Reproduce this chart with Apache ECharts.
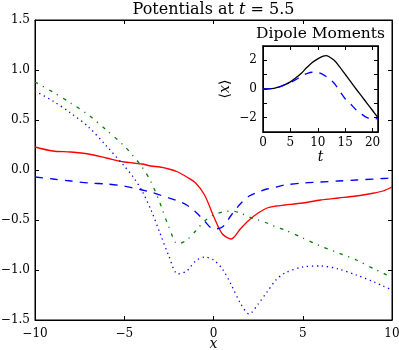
<!DOCTYPE html>
<html>
<head>
<meta charset="utf-8">
<script src="https://cdn.jsdelivr.net/npm/echarts@6/dist/echarts.min.js"></script>
<style>
    html, body { margin: 0; padding: 0; background: #fff; }
    #chart { width: 399px; height: 350px; }
</style>
</head>
<body>
<div id="chart"></div>
<script>
// main plot: potentials at t = 5.5
const xMain = [-10, -9, -8, -7, -6, -5, -4.5, -4, -3.5, -3, -2.5, -2, -1.5, -1, -0.5, 0, 0.5, 1, 1.5, 2, 2.5, 3, 3.5, 4, 5, 6, 7, 8, 9, 9.5, 10];
const redSolid = [0.23, 0.19, 0.18, 0.16, 0.12, 0.08, 0.07, 0.06, 0.04, 0.03, 0.01, -0.02, -0.07, -0.13, -0.25, -0.46, -0.64, -0.69, -0.59, -0.5, -0.43, -0.38, -0.36, -0.35, -0.33, -0.3, -0.28, -0.26, -0.23, -0.21, -0.17];
const blueDashed = [-0.07, -0.09, -0.11, -0.13, -0.14, -0.16, -0.18, -0.2, -0.22, -0.25, -0.28, -0.31, -0.35, -0.42, -0.51, -0.59, -0.57, -0.45, -0.34, -0.26, -0.22, -0.19, -0.17, -0.15, -0.13, -0.12, -0.11, -0.1, -0.09, -0.085, -0.08];
const greenDashDot = [0.88, 0.78, 0.67, 0.55, 0.4, 0.24, 0.14, 0.03, -0.12, -0.33, -0.57, -0.74, -0.7, -0.61, -0.51, -0.45, -0.42, -0.41, -0.43, -0.47, -0.5, -0.53, -0.57, -0.6, -0.68, -0.76, -0.83, -0.9, -0.99, -1.03, -1.08];
const blueDotted = [0.79, 0.69, 0.57, 0.43, 0.24, 0.04, -0.07, -0.21, -0.4, -0.63, -0.86, -1.04, -1.01, -0.91, -0.87, -0.9, -0.99, -1.15, -1.33, -1.44, -1.34, -1.22, -1.1, -1.03, -0.97, -0.96, -0.99, -1.05, -1.12, -1.16, -1.2];

// inset: dipole moments
const tInset = [0, 1, 2, 3, 4, 5, 6, 7, 8, 9, 10, 11, 11.5, 12, 13, 14, 15, 16, 17, 18, 19, 20, 21];
const blackSolid = [0, 0.01, 0.05, 0.15, 0.3, 0.5, 0.78, 1.1, 1.5, 1.85, 2.1, 2.3, 2.33, 2.27, 2.0, 1.55, 1.03, 0.52, 0.0, -0.5, -1.0, -1.5, -2.0];
const blueInset = [0, 0.01, 0.05, 0.15, 0.3, 0.45, 0.65, 0.9, 1.08, 1.17, 1.15, 1.0, 0.88, 0.75, 0.4, -0.15, -0.68, -1.05, -1.45, -1.75, -2.0, -2.1, -2.05];

const insetXTicks = [0, 5, 10, 15, 20];
const insetYLabels = [-2, 0, 2];

const font = 'DejaVu Serif';
const minus = v => String(v).replace('-', '\u2212');

let chart = echarts.init(document.getElementById('chart'));

const tick = { show: true, inside: true, length: 4, lineStyle: { color: '#000' } };
const line = { show: true, onZero: false, lineStyle: { color: '#000', width: 1 } };
const lbl = { color: '#000', fontFamily: font, fontSize: 12 };
const ital = { fontFamily: font, fontStyle: 'italic', fontSize: 16, color: '#000' };

function pairs(xs, ys) {
    return xs.map((x, i) => [x, ys[i]]);
}

chart.setOption({
    animation: false,
    backgroundColor: '#fff',
    grid: [
        { left: 35, right: 7, top: 20, bottom: 30, outerBoundsMode: 'none', show: true, borderColor: '#000', borderWidth: 1 },
        { left: 263, width: 115, top: 46, height: 86, outerBoundsMode: 'none', show: true, backgroundColor: '#fff', borderColor: '#000', borderWidth: 1.5 }
    ],
    xAxis: [
        {
            gridIndex: 0, type: 'value', min: -10, max: 10, interval: 5,
            axisLine: line, axisTick: tick, splitLine: { show: false },
            axisLabel: Object.assign({ margin: 8, formatter: minus }, lbl),
            name: '{i|x}', nameLocation: 'middle', nameGap: 17, nameMoveOverlap: false,
            nameTextStyle: { rich: { i: Object.assign({}, ital, { fontSize: 14 }) } }
        },
        {
            gridIndex: 0, type: 'value', position: 'top', min: -10, max: 10, interval: 5,
            axisLine: line, axisTick: tick, axisLabel: { show: false }, splitLine: { show: false },
            name: 'Potentials at {i|t} = 5.5', nameLocation: 'middle', nameGap: 2,
            nameTextStyle: { color: '#000', fontFamily: font, fontSize: 16, rich: { i: ital } }
        },
        {
            gridIndex: 1, type: 'value', min: 0, max: 21,
            axisLine: line, splitLine: { show: false },
            axisTick: Object.assign({}, tick, { customValues: insetXTicks }),
            axisLabel: Object.assign({ margin: 5, customValues: insetXTicks }, lbl),
            name: '{i|t}', nameLocation: 'middle', nameGap: 18, nameMoveOverlap: false,
            nameTextStyle: { rich: { i: Object.assign({}, ital, { fontSize: 14 }) } }
        },
        {
            gridIndex: 1, type: 'value', position: 'top', min: 0, max: 21,
            axisLine: line, splitLine: { show: false }, axisLabel: { show: false },
            axisTick: Object.assign({}, tick, { customValues: insetXTicks }),
            name: 'Dipole Moments', nameLocation: 'middle', nameGap: 4,
            nameTextStyle: { color: '#000', fontFamily: font, fontSize: 15.5 }
        }
    ],
    yAxis: [
        {
            gridIndex: 0, type: 'value', min: -1.5, max: 1.5, interval: 0.5,
            axisLine: line, axisTick: tick, splitLine: { show: false },
            axisLabel: Object.assign({ margin: 5, formatter: v => minus(v.toFixed(1)) }, lbl)
        },
        {
            gridIndex: 0, type: 'value', position: 'right', min: -1.5, max: 1.5, interval: 0.5,
            axisLine: line, axisTick: tick, axisLabel: { show: false }, splitLine: { show: false }
        },
        {
            gridIndex: 1, type: 'value', min: -3, max: 3, interval: 1,
            axisLine: line, axisTick: tick, splitLine: { show: false },
            axisLabel: Object.assign({ margin: 6, customValues: insetYLabels, formatter: minus }, lbl),
            name: '\u27e8{i|x}\u27e9', nameLocation: 'middle', nameGap: 31, nameRotate: 90, nameMoveOverlap: false,
            nameTextStyle: { color: '#000', fontFamily: font, fontSize: 14, rich: { i: Object.assign({}, ital, { fontSize: 14 }) } }
        },
        {
            gridIndex: 1, type: 'value', position: 'right', min: -3, max: 3, interval: 1,
            axisLine: line, axisTick: tick, axisLabel: { show: false }, splitLine: { show: false }
        }
    ],
    series: [
        {
            type: 'line', xAxisIndex: 0, yAxisIndex: 0, data: pairs(xMain, redSolid),
            smooth: 0.3, showSymbol: false, lineStyle: { color: '#ff0000', width: 1.3 }
        },
        {
            type: 'line', xAxisIndex: 0, yAxisIndex: 0, data: pairs(xMain, blueDashed),
            smooth: 0.3, showSymbol: false, lineStyle: { color: '#0000ff', width: 1.3, type: [8, 7] }
        },
        {
            type: 'line', xAxisIndex: 0, yAxisIndex: 0, data: pairs(xMain, greenDashDot),
            smooth: 0.3, showSymbol: false, lineStyle: { color: '#008000', width: 1.3, type: [3.5, 5.5, 1.2, 6] }
        },
        {
            type: 'line', xAxisIndex: 0, yAxisIndex: 0, data: pairs(xMain, blueDotted),
            smooth: 0.3, showSymbol: false, lineStyle: { color: '#0000ff', width: 1.3, type: [1.3, 3.7] }
        },
        {
            type: 'line', xAxisIndex: 2, yAxisIndex: 2, data: pairs(tInset, blackSolid),
            smooth: 0.3, showSymbol: false, lineStyle: { color: '#000', width: 1.3 }
        },
        {
            type: 'line', xAxisIndex: 2, yAxisIndex: 2, data: pairs(tInset, blueInset),
            smooth: 0.3, showSymbol: false, lineStyle: { color: '#0000ff', width: 1.3, type: [8, 7] }
        }
    ]
});
</script>
</body>
</html>
